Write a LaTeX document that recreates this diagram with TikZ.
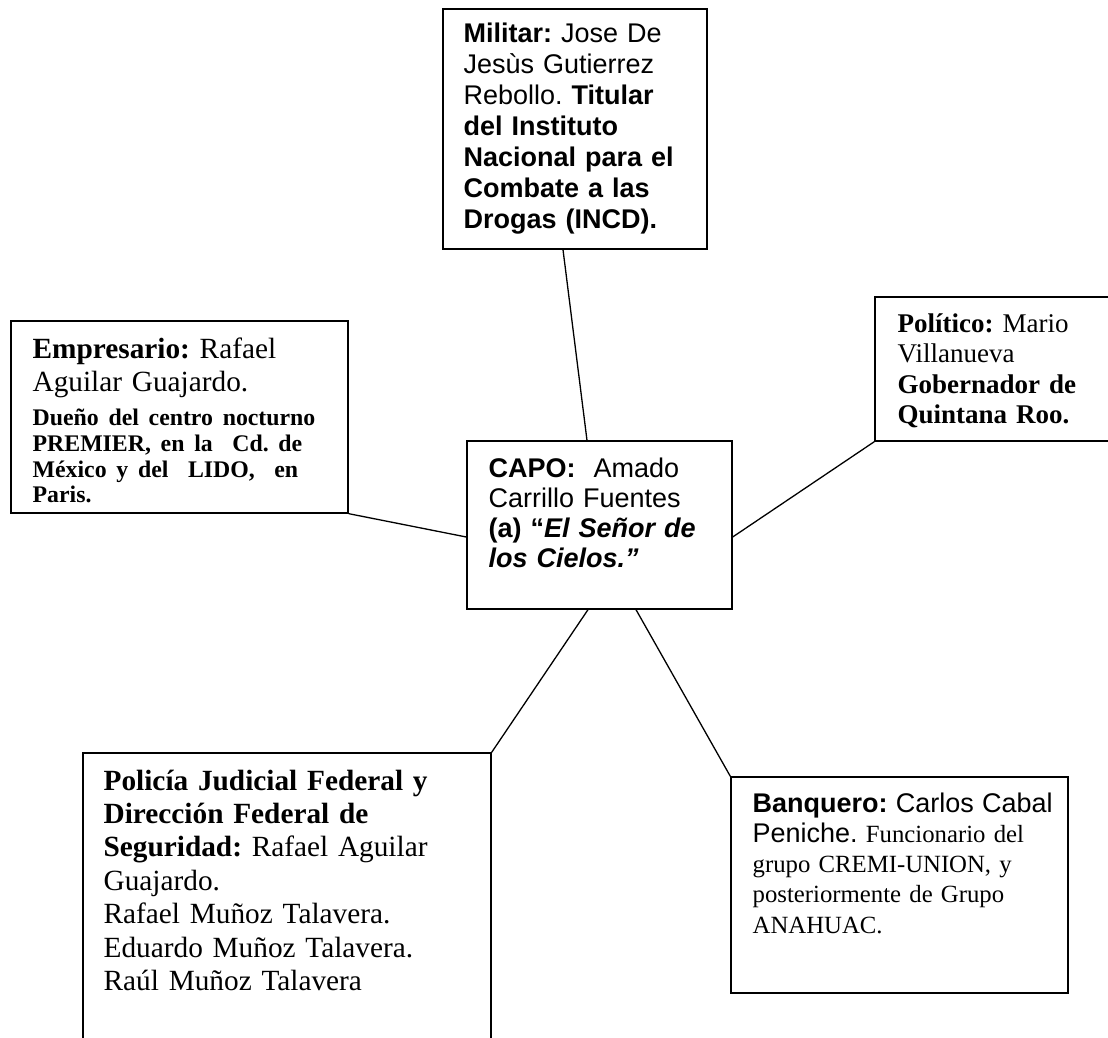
\documentclass[tikz,border=0pt]{standalone}
\usepackage{fontspec}
\setmainfont{Liberation Serif}
\setsansfont{Liberation Sans}
\usepackage{tikz}
\frenchspacing

\begin{document}
\begin{tikzpicture}[x=1pt, y=-1pt, line width=1.3pt,
		box/.style = {draw, inner sep=0pt},
		txt/.style = {anchor=base west, inner sep=0pt, align=left, text width=400pt}]
		\clip (0,0) rectangle (1108,1037);
		
		\node[box, minimum width=264pt, minimum height=240pt] (1) at (575,129) {};
		\node[box, minimum width=337pt, minimum height=192pt] (2) at (179.5,417) {};
		\node[box, minimum width=240pt, minimum height=144pt] (3) at (995,369) {};
		\node[box, minimum width=265pt, minimum height=168pt] (4) at (599.5,525) {};
		\node[box, minimum width=408pt, minimum height=292pt] (5) at (287,899) {};
		\node[box, minimum width=337pt, minimum height=216pt] (6) at (899.5,885) {};
		
		\node[txt, font=\sffamily\fontsize{27}{31}\selectfont] (t1) at (463,42)
			{\textbf{Militar:} Jose De\\ Jesùs Gutierrez\\ Rebollo. \textbf{Titular}\\ \textbf{del Instituto}\\ \textbf{Nacional para el}\\ \textbf{Combate a las}\\ \textbf{Drogas (INCD).}};
		\node[txt, font=\fontsize{29.3}{33.7}\selectfont] (t2) at (32,358)
			{\textbf{Empresario:} Rafael\\ Aguilar Guajardo.\par\vspace{8pt}
			{\fontsize{23.8}{25.8}\selectfont\bfseries Dueño del centro nocturno\\ PREMIER, en la\ \ Cd. de\\ México y del\ \ LIDO,\ \ en\\ Paris.\par}};
		\node[txt, font=\fontsize{27}{30.5}\selectfont] (t3) at (897,332)
			{\textbf{Político:} Mario\\ Villanueva\\ \textbf{Gobernador de}\\ \textbf{Quintana Roo.}};
		\node[txt, font=\sffamily\fontsize{27}{30}\selectfont] (t4) at (488,477)
			{\textbf{CAPO:}\ \ Amado\\ Carrillo Fuentes\\ \textbf{(a) “\textit{El Señor de}}\\ \textbf{\textit{los Cielos.”}}};
		\node[txt, font=\fontsize{29.3}{33.4}\selectfont] (t5) at (103,790)
			{\textbf{Policía Judicial Federal y}\\ \textbf{Dirección Federal de}\\ \textbf{Seguridad:} Rafael Aguilar\\ Guajardo.\\ Rafael Muñoz Talavera.\\ Eduardo Muñoz Talavera.\\ Raúl Muñoz Talavera};
		\node[txt, font=\fontsize{24.75}{30.3}\selectfont] (t6) at (752,812)
			{{\sffamily\fontsize{27}{30.3}\selectfont\textbf{Banquero:} Carlos Cabal}\\ {\sffamily\fontsize{27}{30.3}\selectfont Peniche.} Funcionario del\\ grupo CREMI-UNION, y\\ posteriormente de Grupo\\ ANAHUAC.};
		
		\draw ([xshift=-12pt]1.south) -- ([xshift=-12.5pt]4.north);
		\draw (2.south east) -- ([yshift=-12pt]4.west);
		\draw (3.south west) -- ([yshift=-12pt]4.east);
		\draw ([xshift=-11.5pt]4.south) -- (5.north east);
		\draw ([xshift=36.5pt]4.south) -- (6.north west);
	\end{tikzpicture}
\end{document}
